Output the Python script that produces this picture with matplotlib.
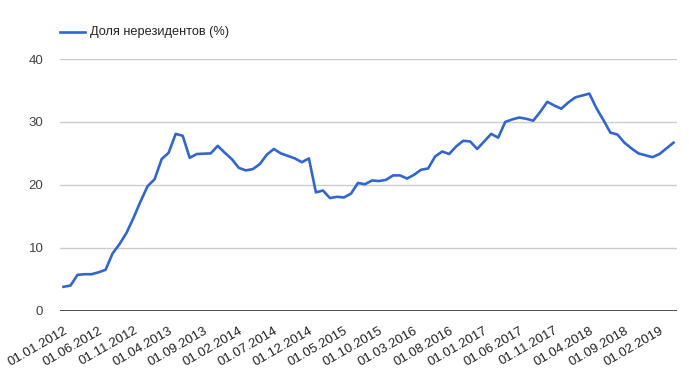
import matplotlib
matplotlib.use("Agg")
import matplotlib.pyplot as plt
import pandas as pd

plt.rcParams['font.family'] = ['Liberation Sans', 'DejaVu Sans']

series_name = "Доля нерезидентов (%)"
start_month = "2012-01-01"
values = [
    3.8, 4.0, 5.7, 5.8, 5.8, 6.1, 6.5, 9.1, 10.6, 12.4, 14.8, 17.4,
    19.8, 20.9, 24.1, 25.1, 28.1, 27.8, 24.3, 24.9, 24.95, 25.0, 26.2, 25.1,
    24.1, 22.7, 22.3, 22.5, 23.3, 24.8, 25.7, 25.0, 24.6, 24.2, 23.6, 24.2,
    18.8, 19.1, 17.9, 18.1, 18.0, 18.6, 20.3, 20.1, 20.7, 20.6, 20.8, 21.5,
    21.5, 21.0, 21.6, 22.4, 22.6, 24.5, 25.3, 24.9, 26.1, 27.0, 26.9, 25.7,
    26.9, 28.1, 27.5, 30.0, 30.4, 30.7, 30.5, 30.2, 31.6, 33.2, 32.6, 32.1,
    33.1, 33.9, 34.2, 34.5, 32.2, 30.3, 28.3, 28.0, 26.7, 25.8, 25.0, 24.7,
    24.4, 24.9, 25.8, 26.7,
]
dates = pd.date_range(start_month, periods=len(values), freq="MS")
date_labels = [d.strftime("%d.%m.%Y") for d in dates]
tick_step = 5
y_ticks = [0, 10, 20, 30, 40]

fig = plt.figure(figsize=(6.89, 3.81), dpi=100)
ax = fig.add_axes([60/689, 70.3/381, 617/689, (310.7-59)/381])

x = list(range(len(values)))
ax.plot(x, values, color="#3366cc", lw=1.9, solid_joinstyle="round", zorder=3)

ax.set_xlim(-0.5, len(values) - 0.5)
ax.set_ylim(0, 40)
ax.set_yticks(y_ticks)
ax.set_yticklabels([str(t) for t in y_ticks])
ax.yaxis.grid(True, color="#cccccc", lw=1)
ax.set_axisbelow(True)
ax.axhline(0, color="#333333", lw=1.2, zorder=2)

tick_idx = x[::tick_step]
ax.set_xticks(tick_idx)
ax.set_xticklabels([date_labels[i] for i in tick_idx], rotation=30, ha="right",
                   va="top", rotation_mode="anchor")
ax.tick_params(axis="x", length=0, pad=10, labelsize=9.5, labelcolor="#222222")
ax.tick_params(axis="y", length=0, pad=12, labelsize=9.5, labelcolor="#444444")

for s in ax.spines.values():
    s.set_visible(False)

# legend
fig.lines.append(plt.Line2D([60/689, 85/689], [1-32/381, 1-32/381], color="#3366cc",
                            lw=1.9, transform=fig.transFigure))
fig.text(90/689, 1-32/381, series_name, fontsize=9.2, color="#222222", va="center", ha="left")

fig.savefig("out.png", dpi=100, facecolor="white")
